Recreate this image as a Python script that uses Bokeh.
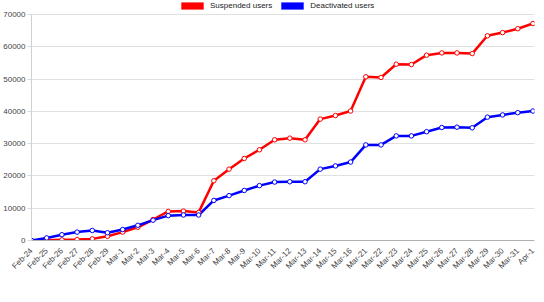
import math
from bokeh.plotting import figure
from bokeh.models import (Range1d, FixedTicker, Legend, LegendItem, ColumnDataSource,
                          BasicTickFormatter)
from bokeh.embed import file_html
from bokeh.resources import INLINE

dates = ["Feb-24", "Feb-25", "Feb-26", "Feb-27", "Feb-28", "Feb-29",
         "Mar-1", "Mar-2", "Mar-3", "Mar-4", "Mar-5", "Mar-6", "Mar-7", "Mar-8",
         "Mar-9", "Mar-10", "Mar-11", "Mar-12", "Mar-13", "Mar-14", "Mar-15",
         "Mar-16", "Mar-21", "Mar-22", "Mar-23", "Mar-24", "Mar-25", "Mar-26",
         "Mar-27", "Mar-28", "Mar-29", "Mar-30", "Mar-31", "Apr-1"]

suspended = [0, 100, 200, 300, 500, 1300, 2600, 4100, 6500, 9000, 9100, 8700,
             18500, 22100, 25400, 28100, 31200, 31700, 31200, 37600, 38700,
             40100, 50700, 50500, 54600, 54500, 57400, 58100, 58100, 57900,
             63400, 64400, 65600, 67200]

deactivated = [0, 800, 1800, 2600, 3100, 2400, 3400, 4700, 6300, 7700, 7900,
               7900, 12400, 13900, 15500, 17000, 18100, 18200, 18200, 22100,
               23100, 24300, 29600, 29600, 32400, 32400, 33700, 35000, 35100,
               34900, 38200, 38900, 39600, 40100]

y_ticks = [0, 10000, 20000, 30000, 40000, 50000, 60000, 70000]

idx = list(range(len(dates)))
src = ColumnDataSource(dict(x=idx, s=suspended, d=deactivated))

FONT = "Liberation Sans"
PLOT_H = 226          # height of the 0..70000 area in px
LEG_H = 14            # px reserved above it for the legend
FRAME_H = PLOT_H + LEG_H
y_top = y_ticks[-1] * FRAME_H / PLOT_H

p = figure(frame_width=503, frame_height=FRAME_H, output_backend="svg", toolbar_location=None,
           x_range=Range1d(0, len(dates) - 1 + 0.1), y_range=Range1d(0, y_top),
           min_border_left=0, min_border_right=2, min_border_top=0, min_border_bottom=0)
p.outline_line_color = None
p.background_fill_color = "white"

# zero-area boxes on the data, used only to give the legend filled swatches
r_s = p.quad(left="x", right="x", top="s", bottom="s", source=src,
             fill_color="#ff0000", line_color=None)
r_d = p.quad(left="x", right="x", top="d", bottom="d", source=src,
             fill_color="#0000ff", line_color=None)

# lines and markers
p.line("x", "s", source=src, color="#ff0000", line_width=2.5)
p.line("x", "d", source=src, color="#0000ff", line_width=2.5)
p.scatter("x", "s", source=src, marker="circle", size=4.5, line_color="#ff0000",
          fill_color="white", line_width=1)
p.scatter("x", "d", source=src, marker="circle", size=4.5, line_color="#0000ff",
          fill_color="white", line_width=1)

legend = Legend(items=[LegendItem(label="Suspended users", renderers=[r_s]),
                       LegendItem(label="Deactivated users", renderers=[r_d])],
                orientation="horizontal", location=(147, FRAME_H - 10),
                glyph_width=28, glyph_height=9, label_standoff=4, spacing=6,
                padding=0, margin=0, border_line_color=None,
                background_fill_alpha=0,
                label_text_font=FONT, label_text_font_size="8px",
                label_text_color="#222222", label_height=9)
p.add_layout(legend)

# x axis
p.xaxis.ticker = FixedTicker(ticks=idx)
p.xaxis.major_label_overrides = {i: d for i, d in enumerate(dates)}
p.xaxis.major_label_orientation = math.pi / 4
p.xaxis.major_label_text_font = FONT
p.xaxis.major_label_text_font_size = "8px"
p.xaxis.major_label_text_color = "#444444"
p.xaxis.axis_line_color = "#b0b0b0"
p.xaxis.major_tick_line_color = None
p.xaxis.minor_tick_line_color = None
p.xaxis.major_label_standoff = 3
p.xgrid.grid_line_color = None

# y axis
p.yaxis.ticker = FixedTicker(ticks=y_ticks)
p.yaxis.bounds = (y_ticks[0], y_ticks[-1])
p.yaxis.formatter = BasicTickFormatter(use_scientific=False)
p.yaxis.major_label_text_font = FONT
p.yaxis.major_label_text_font_size = "8px"
p.yaxis.major_label_text_color = "#444444"
p.yaxis.axis_line_color = "#d0d0d0"
p.yaxis.major_tick_line_color = "#d8d8d8"
p.yaxis.major_tick_out = 4
p.yaxis.major_tick_in = 0
p.yaxis.minor_tick_line_color = None
p.yaxis.major_label_standoff = 2
p.ygrid.grid_line_color = "#e0e0e0"

open("out.html", "w").write(file_html(p, INLINE))
